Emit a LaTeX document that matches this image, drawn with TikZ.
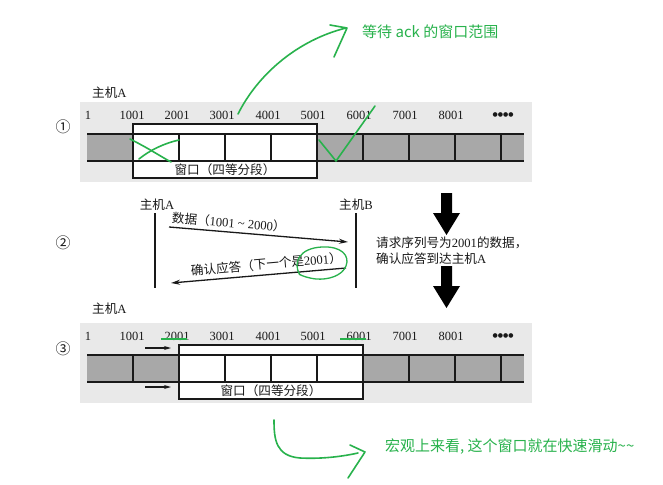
\documentclass[tikz,border=0pt]{standalone}
\usepackage{fontspec}
\setmainfont{Liberation Serif}
\newfontfamily\cjk{Noto Sans CJK SC}
\newfontfamily\dejavu{DejaVu Sans}
\usetikzlibrary{arrows.meta}
\newcommand\zh[1]{{\cjk #1}}
\definecolor{ann}{RGB}{40,178,76}
\definecolor{panelbg}{RGB}{233,233,233}
\definecolor{cellgray}{RGB}{168,168,168}
\definecolor{ink}{RGB}{25,25,25}
\tikzset{
  stripline/.style={draw=ink, line width=1.2pt},
  win/.style={draw=ink, line width=1.4pt, rectangle, inner sep=0pt},
  numlbl/.style={font=\fontsize{12.5}{13}\selectfont, inner sep=0pt, text=ink},
  zhlbl/.style={font=\fontsize{12.6}{13}\selectfont, inner sep=0pt, text=ink},
  circnum/.style={font=\cjk\fontsize{15}{16}\selectfont, inner sep=0pt, text=ink},
  greentxt/.style={font=\cjk\fontsize{15}{16}\selectfont, inner sep=0pt, text=ann},
  pen/.style={draw=ann, line width=1.6pt, line cap=round, line join=round},
  msg/.style={draw=ink, line width=1.3pt, -{Stealth[length=9pt,width=5pt]}},
  life/.style={draw=ink, line width=1.7pt},
  bigarrow/.style={fill=black},
}
\newcommand\stripPanel[3]{%
  \begin{scope}[shift={(0,#2)}]
    \fill[panelbg] (80,102) rectangle (532,182);
    \fill[cellgray] (87,134) rectangle (524,161);
    \fill[white] ({87+46*#3},124) rectangle ({87+46*(#3+4)},178);
    \draw[stripline] (87,134) -- (524,134) (87,161) -- (524,161);
    \foreach \k in {1,...,9} {\draw[stripline] ({87+46*\k},134) -- ({87+46*\k},161);}
    \node[win, minimum width=184pt, minimum height=54pt] (#1win) at ({87+46*#3+92},151) {};
    \node[zhlbl] (#1cap) at ({87+46*#3+92},170) {\zh{窗口（四等分段）}};
    \node[numlbl] (#1n0) at (88,115) {1};
    \foreach \x/\t [count=\i] in {132/1001,177/2001,222/3001,268/4001,313/5001,359/6001,405/7001,451/8001}
      {\node[numlbl] (#1n\i) at (\x,115) {\t};}
    \node[numlbl, font=\dejavu\fontsize{6}{7}\selectfont] (#1dots) at (503,115) {●●●●};
  \end{scope}}
\begin{document}
\begin{tikzpicture}[x=1pt,y=-1pt]
\useasboundingbox (0,0) rectangle (663,484);
\fill[white] (0,0) rectangle (663,484);

% ---------- panel 1 ----------
\stripPanel{p}{0}{1}
\node[zhlbl, anchor=west] (hostA1) at (92,93) {\zh{主机}A};
\node[circnum] (c1) at (63,127) {①};

% ---------- panel 3 ----------
\stripPanel{q}{221}{2}
\node[zhlbl, anchor=west] (hostA3) at (92,309) {\zh{主机}A};
\node[circnum] (c3) at (63,349) {③};
\coordinate (sa1) at (145,348); \coordinate (ea1) at (171,348);
\coordinate (sa2) at (145,387); \coordinate (ea2) at (171,387);
\draw[draw=ink, line width=1.3pt, -{Stealth[length=7pt,width=4pt]}] (sa1) -- (ea1);
\draw[draw=ink, line width=1.3pt, -{Stealth[length=7pt,width=4pt]}] (sa2) -- (ea2);
\coordinate (u1a) at (161,339); \coordinate (u1b) at (187,339);
\coordinate (u2a) at (340,339); \coordinate (u2b) at (366,339);
\draw[draw=ann, line width=1.3pt] (u1a) -- (u1b);
\draw[draw=ann, line width=1.3pt] (u2a) -- (u2b);

% ---------- panel 2 ----------
\node[circnum] (c2) at (63,243) {②};
\node[zhlbl] (hostA2) at (157,205) {\zh{主机}A};
\node[zhlbl] (hostB2) at (356,205) {\zh{主机}B};
\coordinate (la1) at (155,213); \coordinate (la2) at (155,288);
\coordinate (lb1) at (356,213); \coordinate (lb2) at (356,288);
\draw[life] (la1) -- (la2);
\draw[life] (lb1) -- (lb2);
\coordinate (m1s) at (169,227); \coordinate (m1e) at (348,242);
\coordinate (m2s) at (346,268); \coordinate (m2e) at (171,283);
\draw[msg] (m1s) -- node[zhlbl, sloped, above=3pt, pos=0.33] (m1l) {\zh{数据（}1001 \textasciitilde{} 2000\zh{）}} (m1e);
\draw[msg] (m2s) -- node[zhlbl, sloped, above=4pt, pos=0.45] (m2l) {\zh{确认应答（下一个是}2001\zh{）}} (m2e);

% big arrows
\fill[bigarrow] (441,193) -- (452,193) -- (452,213) -- (460,213) -- (446.5,235) -- (433,213) -- (441,213) -- cycle;
\fill[bigarrow] (441,266) -- (452,266) -- (452,286) -- (460,286) -- (446.5,308) -- (433,286) -- (441,286) -- cycle;
\node[zhlbl, anchor=west] (req1) at (376,243) {\zh{请求序列号为}2001\zh{的数据，}};
\node[zhlbl, anchor=west] (req2) at (376,259) {\zh{确认应答到达主机}A};

% ---------- green annotations ----------
\node[greentxt, anchor=west] (g1) at (362,32) {等待 ack 的窗口范围};
\node[greentxt, anchor=west] (g2) at (385,447) {宏观上来看, 这个窗口就在快速滑动\textasciitilde\textasciitilde};
% top curve with arrow head
\draw[pen] (238,114) .. controls (258,74) and (298,40) .. (346,28);
\draw[pen] (330,25) -- (347,28) -- (334,57);
% cross in first cell
\draw[pen] (130,139) .. controls (148,148) and (160,156) .. (171,162);
\draw[pen] (139,159) .. controls (150,150) and (165,143) .. (179,140);
% check mark
\draw[pen] (319,140) -- (336,161) -- (375,106);
% ellipse around 2001
\draw[pen, line width=1.3pt] (300,275) .. controls (292,262) and (300,248) .. (322,247)
  .. controls (342,246) and (350,256) .. (346,266)
  .. controls (342,276) and (328,280) .. (316,279) .. controls (308,278) and (302,276) .. (299,274);
% bottom curve with arrow head
\draw[pen] (274,420) .. controls (274,440) and (276,456) .. (300,458)
  .. controls (320,459) and (340,457) .. (358,453);
\draw[pen] (350,445) -- (365,452) -- (348,478);
\end{tikzpicture}
\end{document}
